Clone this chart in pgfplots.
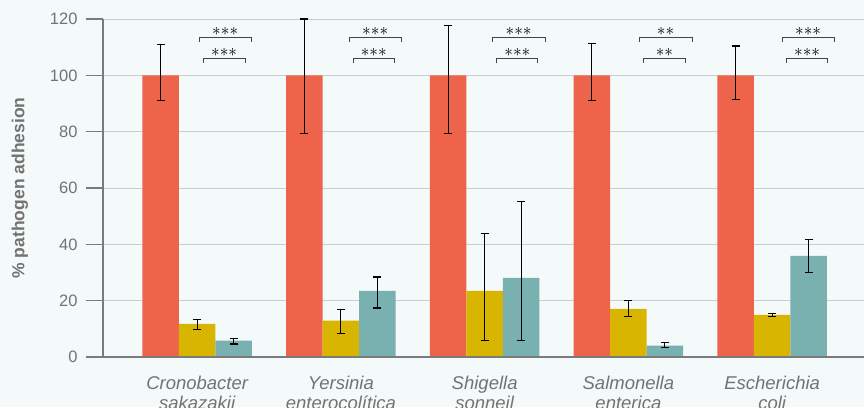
\documentclass[border=0pt]{standalone}
\usepackage{pgfplots}
\pgfplotsset{compat=1.18}
\usepackage{fontspec}
\setmainfont{Liberation Sans}
\setsansfont{Liberation Sans}

\definecolor{bg}{HTML}{F4F9F9}
\definecolor{barred}{HTML}{EE644A}
\definecolor{baryellow}{HTML}{D8B500}
\definecolor{barteal}{HTML}{79B0B0}
\definecolor{textgray}{HTML}{737373}
\definecolor{axisgray}{HTML}{7A7A7A}
\definecolor{gridgray}{HTML}{CDCDCD}
\definecolor{brackgray}{HTML}{444444}

% significance bracket: x from, x to, height, label
\newcommand{\sig}[4]{%
  \draw[brackgray, line width=0.9pt]
    (axis cs:#1,#3-1.5) -- (axis cs:#1,#3) -- (axis cs:#2,#3) -- (axis cs:#2,#3-1.5);
  \node[inner sep=0pt, font=\fontsize{16}{16}\selectfont]
    at (axis cs:{(#1+#2)/2},#3+2.0) {#4};
}
\newcommand{\three}{${\ast}{\ast}{\ast}$}
\newcommand{\two}{${\ast}{\ast}$}

\begin{document}
\begin{tikzpicture}
\fill[bg] (-103pt,-50pt) rectangle (761pt,357pt);
\path[use as bounding box] (-103pt,-50pt) rectangle (761pt,357pt);
\begin{axis}[
  at={(0pt,0pt)}, anchor=south west,
  scale only axis, width=761pt, height=338pt,
  xmin=-0.655, xmax=4.639, ymin=0, ymax=120,
  clip=false,
  ybar=0pt, bar width=36.5pt,
  axis x line*=bottom, axis y line*=left,
  axis line style={draw=none},
  ytick={0,20,...,120},
  xtick={0,1,2,3,4},
  xticklabels={{Cronobacter\\sakazakii},{Yersinia\\enterocolítica},{Shigella\\sonneil},{Salmonella\\enterica},{Escherichia\\coli}},
  xtick style={draw=none},
  ytick style={axisgray, line width=1.6pt},
  tick align=outside,
  major tick length=17pt,
  ymajorgrids,
  grid style={gridgray, line width=0.9pt},
  /pgf/number format/assume math mode=true,
  yticklabel style={font=\fontsize{16.5}{18}\selectfont, text=textgray, xshift=-5pt},
  xticklabel style={align=center, font=\itshape\fontsize{18.5}{20}\selectfont, text=textgray, yshift=1pt},
  ylabel={\% pathogen adhesion},
  every axis y label/.style={at={(axis description cs:0,0.5)}, xshift=-83pt, rotate=90, anchor=center,
    font=\bfseries\fontsize{17.5}{18}\selectfont, text=textgray},
  error bars/y dir=both,
  error bars/y explicit,
  error bars/error bar style={black, line width=1.1pt},
  error bars/error mark options={rotate=90, mark size=4pt, black, line width=1.1pt},
]
\addplot[fill=barred, draw=none] coordinates {
  (0,100) += (0,11.1) -= (0,8.9)
  (1,100) += (0,20.0) -= (0,20.5)
  (2,100) += (0,17.8) -= (0,20.5)
  (3,100) += (0,11.2) -= (0,8.8)
  (4,100) += (0,10.4) -= (0,8.7)
};
\addplot[fill=baryellow, draw=none] coordinates {
  (0,11.8) += (0,1.6) -= (0,1.9)
  (1,12.9) += (0,4.0) -= (0,4.4)
  (2,23.5) += (0,20.3) -= (0,17.8)
  (3,17.1) += (0,3.0) -= (0,2.7)
  (4,15.0) += (0,0.5) -= (0,0.5)
};
\addplot[fill=barteal, draw=none] coordinates {
  (0,5.8) += (0,0.8) -= (0,1.2)
  (1,23.5) += (0,4.9) -= (0,6.1)
  (2,28.1) += (0,27.0) -= (0,22.4)
  (3,4.0) += (0,1.3) -= (0,0.7)
  (4,35.9) += (0,5.8) -= (0,5.8)
};
% significance brackets
\sig{0.014}{0.376}{113.5}{\three}
\sig{0.042}{0.334}{106.0}{\three}
\sig{1.058}{1.419}{113.5}{\three}
\sig{1.086}{1.371}{106.0}{\three}
\sig{2.052}{2.421}{113.5}{\three}
\sig{2.085}{2.370}{106.0}{\three}
\sig{3.075}{3.443}{113.5}{\two}
\sig{3.108}{3.394}{106.0}{\two}
\sig{4.070}{4.431}{113.5}{\three}
\sig{4.099}{4.388}{106.0}{\three}
\end{axis}
% axis lines
\draw[axisgray, line width=1.8pt] (-17pt,0pt) -- (761pt,0pt);
\draw[axisgray, line width=1.8pt] (0pt,0pt) -- (0pt,338pt);
\end{tikzpicture}
\end{document}
